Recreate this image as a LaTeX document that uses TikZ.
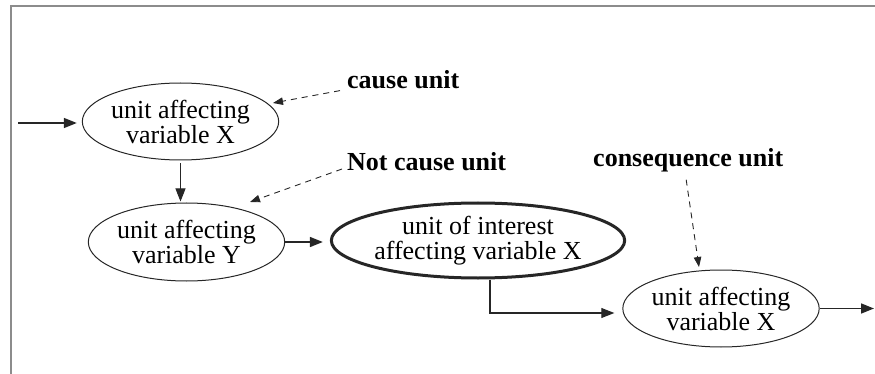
\documentclass[tikz,border=0pt]{standalone}
\usepackage{fontspec}
\setmainfont{Liberation Serif}
\usetikzlibrary{arrows.meta,shapes.geometric,calc}

\tikzset{
  unitbox/.style={ellipse, draw=black!85, line width=1pt, inner sep=0pt,
    align=center, font=\fontsize{26}{25}\selectfont},
  keybox/.style={unitbox, line width=3pt},
  note/.style={inner sep=0pt, font=\fontsize{26}{26}\selectfont\bfseries},
  flow/.style={draw=black!85, line width=1pt,
    -{Triangle[length=13pt,width=10pt]}},
  heavyflow/.style={flow, line width=1.6pt},
  hint/.style={draw=black!85, line width=0.9pt, dash pattern=on 6pt off 5pt,
    -{Triangle[length=10pt,width=7.5pt]}},
  frameline/.style={draw=black!45, line width=1.6pt}
}

\begin{document}
\begin{tikzpicture}[x=1pt, y=-1pt]
  \useasboundingbox (0,0) rectangle (875,374);

  % open frame: top and left edges
  \draw[frameline] (11,374) -- (11,6) -- (875,6);

  % units
  \node[unitbox, minimum width=191pt, minimum height=77pt] (A) at (180.5,121.5)
    {unit affecting\\variable X};
  \node[unitbox, minimum width=193pt, minimum height=78pt] (B) at (186.5,242)
    {unit affecting\\variable Y};
  \node[keybox, minimum width=256pt, minimum height=75pt] (C) at (478,240.5)
    {unit of interest\\affecting variable X};
  \node[unitbox, minimum width=192pt, minimum height=77pt] (D) at (721,308.5)
    {unit affecting\\variable X};

  % labels
  \node[note, anchor=base west] (cause) at (347,89) {cause unit};
  \node[note, anchor=base west] (notcause) at (347,171) {Not cause unit};
  \node[note, anchor=base west] (conseq) at (593,167) {consequence unit};

  % free ends of the flow
  \coordinate (in) at (18,123);
  \coordinate (out) at (874,308.5);

  % flow between units
  \draw[heavyflow, shorten >=5pt] (in) -- (A.west |- in);
  \draw[flow, shorten <=3pt, shorten >=1pt] (A.south) -- (A.south |- B.north);
  \draw[heavyflow, shorten >=7pt] (B.east) -- (B.east -| C.west);
  \draw[flow, line width=1.2pt] ([xshift=12pt]C.south)
    |- ([xshift=-8pt,yshift=-4.5pt]D.west);
  \draw[heavyflow] (D.east) -- (out);

  % dashed pointers from labels to units
  \draw[hint] ([xshift=-7pt,yshift=-1.6pt]cause.base west)
    -- ($(A.center)+(92.5,-18.5)$);
  \draw[hint] ([xshift=-5pt,yshift=2pt]notcause.base west)
    -- ($(B.center)+(63.5,-40)$);
  \draw[hint] ([xshift=-2pt,yshift=-7pt]conseq.south)
    -- ($(D.center)+(-22,-41.5)$);
\end{tikzpicture}
\end{document}
